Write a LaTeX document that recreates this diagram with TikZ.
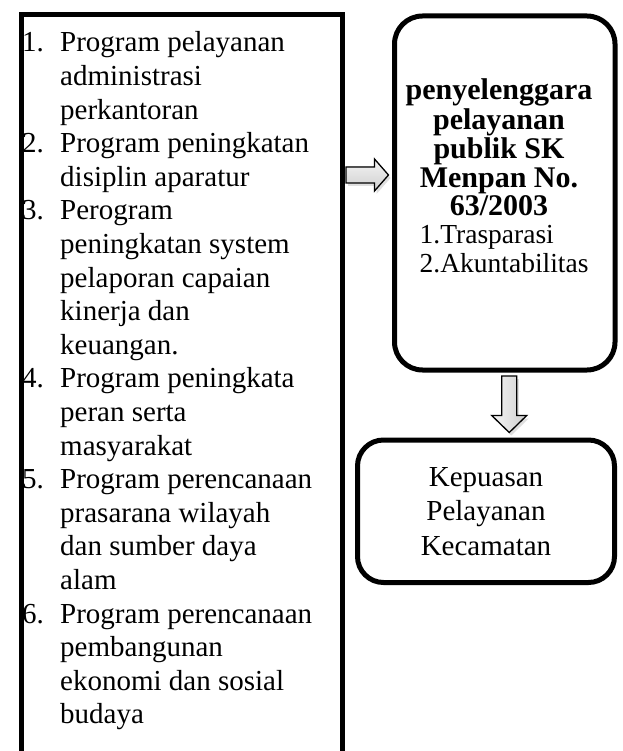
\documentclass[tikz,border=0pt]{standalone}
\usepackage{fontspec}
\setmainfont{Liberation Serif}
\usetikzlibrary{calc,shadows}

\begin{document}
\begin{tikzpicture}[x=1pt,y=-1pt]
    % --- Dimensions ---
    \def\PageW{622}       % picture width
    \def\PageH{751}       % picture height
    \def\FrameLine{5pt}   % thickness of the box borders

    % --- Styles ---
    \tikzset{
        list box/.style={
            draw=black,
            line width=\FrameLine,
            minimum width=321pt,
            minimum height=780pt,
            inner sep=0pt
        },
        round box/.style={
            draw=black,
            line width=\FrameLine,
            inner sep=0pt
        },
        list text/.style={font=\fontsize{29}{33.6}\selectfont, inner sep=0pt},
        rule text/.style={font=\fontsize{30}{28.4}\selectfont, inner sep=0pt},
        result text/.style={font=\fontsize{29}{34.5}\selectfont, align=center},
        block arrow/.style={
            draw=black,
            line width=1.3pt,
            line join=miter,
            drop shadow={opacity=0.25, shadow xshift=2pt, shadow yshift=-3pt}
        }
    }

    \useasboundingbox (0,0) rectangle (\PageW,\PageH);
    \clip (0,0) rectangle (\PageW,\PageH);

    % =========================================================
    % 1) LEFT BOX: list of programmes (runs off the page bottom)
    % =========================================================
    \node[list box, anchor=north west] (program) at (18.5,12.5) {};

    \node[list text, anchor=base west] (programtext) at (22,52) {%
        \begin{tabular}[t]{@{}p{38pt}@{}l@{}}
        1. & Program pelayanan\\
           & administrasi\\
           & perkantoran\\
        2. & Program peningkatan\\
           & disiplin aparatur\\
        3. & Perogram\\
           & peningkatan system\\
           & pelaporan capaian\\
           & kinerja dan\\
           & keuangan.\\
        4. & Program peningkata\\
           & peran serta\\
           & masyarakat\\
        5. & Program perencanaan\\
           & prasarana wilayah\\
           & dan sumber daya\\
           & alam\\
        6. & Program perencanaan\\
           & pembangunan\\
           & ekonomi dan sosial\\
           & budaya
        \end{tabular}};

    % =========================================================
    % 2) RIGHT BOXES
    % =========================================================
    \node[round box, rounded corners=28pt, minimum width=220.5pt,
          minimum height=354pt] (rules) at (504.75,193) {};

    \node[rule text, anchor=base] (rulestext) at (499,100) {%
        \begin{tabular}[t]{@{}l@{}}
        \multicolumn{1}{@{}c@{}}{\bfseries penyelenggara}\\
        \multicolumn{1}{@{}c@{}}{\bfseries pelayanan}\\
        \multicolumn{1}{@{}c@{}}{\bfseries publik SK}\\
        \multicolumn{1}{@{}c@{}}{\bfseries Menpan No.}\\
        \multicolumn{1}{@{}c@{}}{\bfseries 63/2003}\\
        \hspace*{14pt}{\fontsize{27.5}{28.4}\selectfont 1.Trasparasi}\\
        \hspace*{14pt}{\fontsize{27.5}{28.4}\selectfont 2.Akuntabilitas}
        \end{tabular}};

    \node[round box, rounded corners=26pt, minimum width=257pt,
          minimum height=142.5pt, result text] (kepuasan) at (486,511.25)
        {Kepuasan\\ Pelayanan\\ Kecamatan};

    % =========================================================
    % 3) BLOCK ARROWS
    % =========================================================
    % --- list -> rules ---
    \coordinate (rstart) at ($(program.north east)+(1.5,162.5)$);
    \coordinate (rend) at ($(rules.west |- rstart)+(-3.5,0)$);
    \filldraw[block arrow, top color=gray!8, bottom color=gray!38]
      ($(rstart)+(0,-8)$) -- ($(rend)+(-14,-8)$) -- ($(rend)+(-14,-16)$)
      -- (rend) -- ($(rend)+(-14,16)$) -- ($(rend)+(-14,8)$)
      -- ($(rstart)+(0,8)$) -- cycle;

    % --- rules -> kepuasan ---
    \coordinate (dstart) at ($(rules.south)+(4.5,3.5)$);
    \coordinate (dend) at ($(dstart |- kepuasan.north)+(0,-5)$);
    \filldraw[block arrow, left color=gray!8, right color=gray!38]
      ($(dstart)+(-7.5,0)$) -- ($(dend)+(-7.5,-17)$) -- ($(dend)+(-17.5,-17)$)
      -- (dend) -- ($(dend)+(17.5,-17)$) -- ($(dend)+(7.5,-17)$)
      -- ($(dstart)+(7.5,0)$) -- cycle;

\end{tikzpicture}
\end{document}
